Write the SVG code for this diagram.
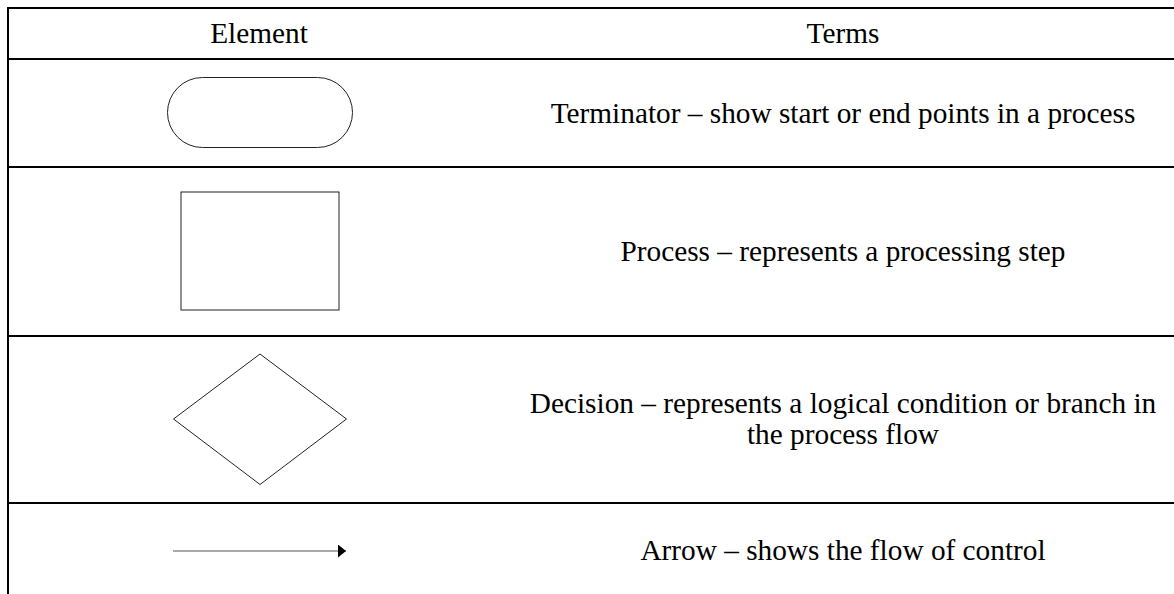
<svg xmlns="http://www.w3.org/2000/svg" width="1174" height="594" viewBox="0 0 1174 594">
  <defs>
    <marker id="arrowhead" viewBox="0 0 8 13" refX="8" refY="6.5" markerWidth="8" markerHeight="13" markerUnits="userSpaceOnUse" orient="auto">
      <path d="M0,0 L8,6.5 L0,13 Z" fill="#000"/>
    </marker>
  </defs>
  <style>
    .rule { stroke: #000; stroke-width: 2; fill: none; }
    .label { font-family: "Liberation Serif", "Times New Roman", serif; font-size: 29.3px; fill: #000; text-anchor: middle; }
    .shape { fill: #fff; stroke: #222; stroke-width: 1; }
  </style>
  <rect width="1174" height="594" fill="#fff"/>

  <!-- table rules -->
  <g id="table-grid">
    <line class="rule" x1="8" y1="7" x2="8" y2="594"/>
    <line class="rule" x1="7" y1="8" x2="1174" y2="8"/>
    <line class="rule" x1="7" y1="59" x2="1174" y2="59"/>
    <line class="rule" x1="7" y1="167" x2="1174" y2="167"/>
    <line class="rule" x1="7" y1="336" x2="1174" y2="336"/>
    <line class="rule" x1="7" y1="503" x2="1174" y2="503"/>
  </g>

  <!-- header row -->
  <g id="header">
    <text class="label" x="259" y="43">Element</text>
    <text class="label" x="843" y="43">Terms</text>
  </g>

  <!-- terminator row -->
  <g id="terminator">
    <rect class="shape" x="167.5" y="77.5" width="185" height="70" rx="35" ry="35"/>
    <text class="label" x="843" y="123">Terminator – show start or end points in a process</text>
  </g>

  <!-- process row -->
  <g id="process">
    <rect class="shape" x="181" y="192" width="158" height="118" stroke="#555" stroke-width="1.3"/>
    <text class="label" x="843" y="261">Process – represents a processing step</text>
  </g>

  <!-- decision row -->
  <g id="decision">
    <polygon class="shape" points="260,354 346.5,419 260,484.5 173.5,419"/>
    <text class="label" x="843" y="413">Decision – represents a logical condition or branch in</text>
    <text class="label" x="843" y="444">the process flow</text>
  </g>

  <!-- arrow row -->
  <g id="arrow-row">
    <text class="label" x="843" y="560">Arrow – shows the flow of control</text>
  </g>

  <g id="connectors">
    <line x1="173" y1="551" x2="346" y2="551" stroke="#555" stroke-width="1.2" marker-end="url(#arrowhead)"/>
  </g>
</svg>
